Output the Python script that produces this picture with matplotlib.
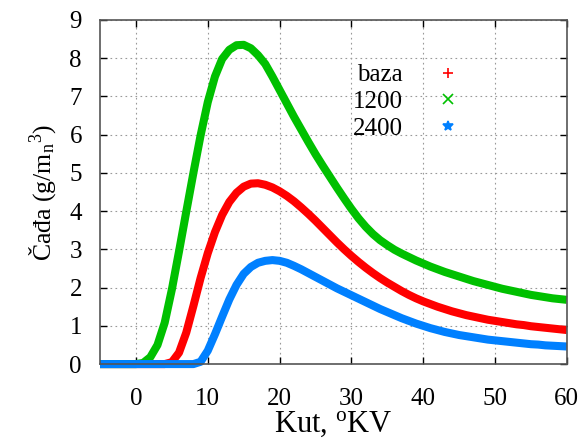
import numpy as np
import matplotlib
matplotlib.use('Agg')
from matplotlib import pyplot as plt
from matplotlib.lines import Line2D

plt.rcParams['font.family'] = 'Liberation Serif'
plt.rcParams['mathtext.fontset'] = 'custom'
plt.rcParams['mathtext.rm'] = 'Liberation Serif'
plt.rcParams['mathtext.it'] = 'Liberation Serif:italic'

# crank angle, deg (1 deg steps)
kut = list(range(-5, 61))

# soot, g/m_n^3
baza = [0, 0, 0, 0, 0, 0, 0, 0, 0, 0,          # -5 .. 4
        0.05, 0.3, 0.82, 1.52, 2.25, 2.9, 3.45, 3.9, 4.24, 4.48,    # 5 .. 14
        4.64, 4.72, 4.73, 4.69, 4.62, 4.52, 4.4, 4.26, 4.1, 3.93,   # 15 .. 24
        3.75, 3.56, 3.37, 3.18, 3.0, 2.83, 2.67, 2.52, 2.38, 2.25,  # 25 .. 34
        2.13, 2.02, 1.91, 1.81, 1.72, 1.64, 1.57, 1.5, 1.44, 1.38,  # 35 .. 44
        1.33, 1.28, 1.24, 1.2, 1.16, 1.13, 1.1, 1.07, 1.04, 1.02,   # 45 .. 54
        0.99, 0.97, 0.95, 0.93, 0.91, 0.89]                         # 55 .. 60

s1200 = [0, 0, 0, 0, 0, 0, 0.03, 0.18, 0.5, 1.08,                  # -5 .. 4
         1.95, 2.95, 3.98, 5.0, 5.98, 6.85, 7.52, 7.98, 8.22, 8.34, # 5 .. 14
         8.35, 8.26, 8.08, 7.85, 7.52, 7.17, 6.82, 6.47, 6.14, 5.81,  # 15 .. 24
         5.49, 5.19, 4.9, 4.61, 4.33, 4.06, 3.81, 3.59, 3.4, 3.24,    # 25 .. 34
         3.11, 2.99, 2.89, 2.8, 2.71, 2.63, 2.55, 2.48, 2.41, 2.35,   # 35 .. 44
         2.29, 2.23, 2.17, 2.12, 2.07, 2.02, 1.97, 1.93, 1.89, 1.85,  # 45 .. 54
         1.81, 1.78, 1.75, 1.72, 1.7, 1.68]                           # 55 .. 60

s2400 = [0, 0, 0, 0, 0, 0, 0, 0, 0, 0,                             # -5 .. 4
         0, 0, 0, 0, 0.06, 0.35, 0.78, 1.24, 1.69, 2.07,            # 5 .. 14
         2.36, 2.54, 2.65, 2.7, 2.72, 2.7, 2.65, 2.57, 2.48, 2.38,  # 15 .. 24
         2.28, 2.18, 2.08, 1.98, 1.89, 1.8, 1.71, 1.62, 1.53, 1.44, # 25 .. 34
         1.36, 1.28, 1.2, 1.13, 1.06, 1.0, 0.94, 0.89, 0.84, 0.8,   # 35 .. 44
         0.76, 0.73, 0.7, 0.67, 0.64, 0.62, 0.6, 0.58, 0.56, 0.54,  # 45 .. 54
         0.52, 0.51, 0.49, 0.48, 0.47, 0.46]                        # 55 .. 60

series = [('baza', baza, '#ff0000', '+'),
          ('1200', s1200, '#00c000', 'x'),
          ('2400', s2400, '#0080ff', '*')]

fig = plt.figure(figsize=(5.85, 4.44), dpi=100)
ax = fig.add_axes([0.171, 0.180, 0.798, 0.775])

handles = []
for name, vals, col, mk in series:
    ax.plot(kut, vals, color=col, lw=5.8, solid_capstyle='butt',
            solid_joinstyle='round', clip_on=False, zorder=2)
    handles.append(Line2D([], [], color=col, ls='none', marker=mk, ms=7, mew=1.2))

ax.set_xlim(-5, 60)
ax.set_ylim(0, 9)
ax.set_xticks(range(0, 61, 10))
ax.set_yticks(range(0, 10))
ax.grid(True, ls=(0, (1.5, 3)), color='#999999', lw=0.8)
ax.tick_params(direction='in', top=True, right=True, length=5, width=1,
               labelsize=18)
ax.tick_params(axis='x', pad=17)
ax.tick_params(axis='y', pad=13)
for sp in ax.spines.values():
    sp.set_color('#555555')
    sp.set_linewidth(1.2)
    sp.set_zorder(3)

ax.set_xlabel('Kut, $^{\\rm o}$KV', fontsize=22, labelpad=0)
ax.set_ylabel('Čađa (g/m$_{\\rm n}$$^{\\rm 3}$)', fontsize=18.5, labelpad=8)

ax.legend(handles, ['baza', '1200', '2400'], loc='upper left',
          bbox_to_anchor=(0.493, 0.938), frameon=False, markerfirst=False,
          fontsize=18, handlelength=1.0, handletextpad=1.3, labelspacing=0.17)

fig.savefig('out.png', dpi=100)
